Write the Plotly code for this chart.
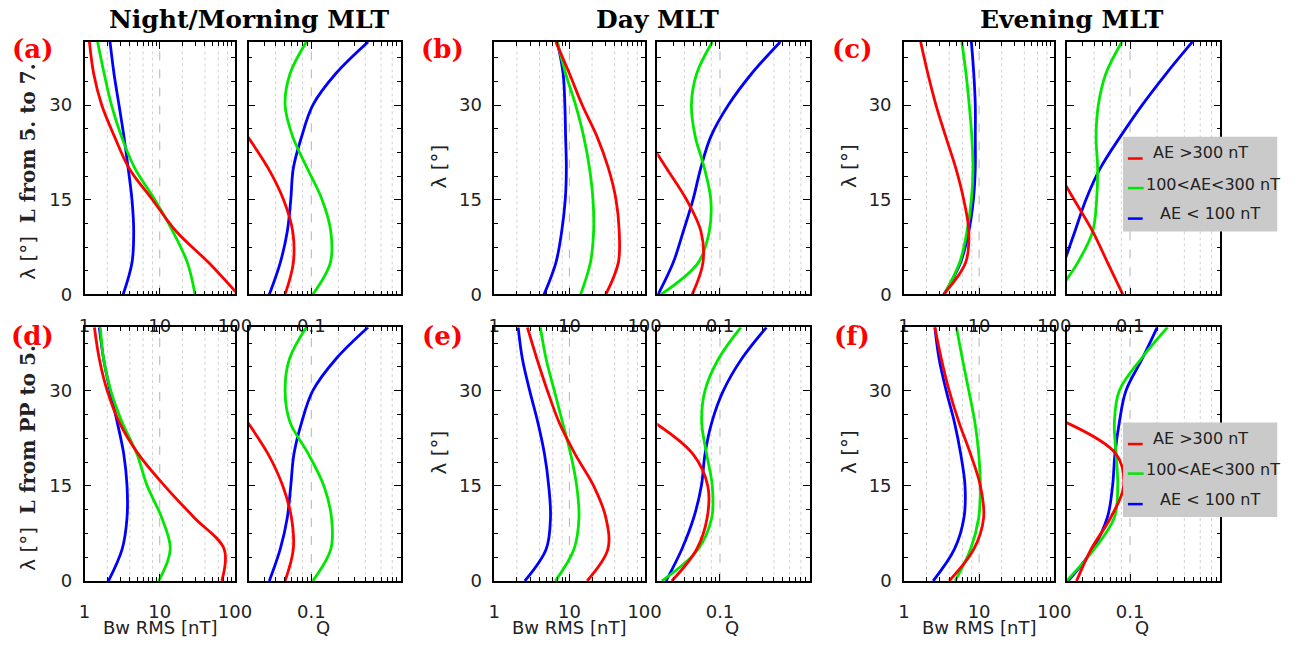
import math
import plotly.graph_objects as go

W, H = 1308, 650

# magnetic latitude grid [deg]
LAT = [0, 5, 10, 15, 20, 25, 30, 35, 40]

SERIES = ["AE >300 nT", "100<AE<300 nT", "AE < 100 nT"]
COLORS = ["#ff0000", "#00e800", "#0000ff"]

# ---- Bw RMS [nT] (red: AE>300, green: 100<AE<300, blue: AE<100) ----
bw_a_red = [110, 45, 16.5, 8.0, 3.9, 2.5, 1.69, 1.32, 1.16]
bw_a_green = [29.5, 23.4, 14.9, 8.6, 4.65, 3.1, 2.28, 1.82, 1.49]
bw_a_blue = [3.26, 4.27, 4.5, 4.27, 3.8, 3.34, 2.87, 2.46, 2.18]

bw_b_red = [30.5, 44.7, 46, 41.7, 33, 23.3, 14.8, 10, 6.6]
bw_b_green = [14.1, 19, 21, 20.6, 18.5, 15.5, 12.1, 8.9, 6.9]
bw_b_blue = [4.6, 6.6, 7.9, 8.8, 9.1, 8.9, 8.7, 8.25, 6.9]

bw_c_red = [3.36, 6.6, 7.3, 6.25, 4.9, 3.6, 2.67, 2.08, 1.67]
bw_c_green = [3.43, 5.5, 6.9, 7.9, 8.3, 8.0, 7.4, 6.7, 5.9]
bw_c_blue = [3.43, 5.65, 7.3, 8.4, 8.9, 8.9, 8.9, 8.5, 7.9]

bw_d_red = [67, 72, 28.6, 11.6, 5.2, 2.9, 2.0, 1.57, 1.35]
bw_d_green = [9.7, 13.8, 10.6, 6.8, 4.97, 3.16, 2.23, 1.79, 1.62]
bw_d_blue = [2.08, 3.16, 3.67, 3.67, 3.32, 2.72, 2.18, 1.79, 1.57]

bw_e_red = [17.2, 32.5, 30.5, 21, 11.9, 7.3, 5.1, 3.7, 2.76]
bw_e_green = [6.5, 11.5, 13.4, 12.5, 10.4, 8.1, 6.3, 4.9, 4.1]
bw_e_blue = [2.55, 4.9, 5.6, 5.3, 4.66, 3.8, 2.96, 2.37, 2.08]

bw_f_red = [4.0, 8.5, 11.5, 10.4, 7.7, 5.4, 4.0, 3.15, 2.58]
bw_f_green = [4.8, 7.7, 9.9, 10.4, 9.9, 8.8, 7.3, 6.0, 5.0]
bw_f_blue = [2.45, 4.7, 6.3, 6.5, 5.7, 4.7, 3.65, 2.94, 2.58]

# ---- Q ----
q_a_red = [0.051, 0.063, 0.062, 0.049, 0.033, 0.0195]
q_a_green = [0.104, 0.163, 0.165, 0.132, 0.09, 0.062, 0.051, 0.058, 0.088]
q_a_blue = [0.034, 0.045, 0.054, 0.059, 0.063, 0.078, 0.104, 0.188, 0.43]

q_b_red = [0.049, 0.0645, 0.0613, 0.0424, 0.0253, 0.015]
q_b_green = [0.022, 0.057, 0.076, 0.079, 0.067, 0.053, 0.048, 0.055, 0.082]
q_b_blue = [0.0204, 0.030, 0.039, 0.050, 0.061, 0.079, 0.124, 0.226, 0.47]

q_c_red = [0.083, 0.0565, 0.0385, 0.024, 0.015]
q_c_green = [0.015, 0.0262, 0.0385, 0.0426, 0.0437, 0.042, 0.0445, 0.054, 0.081]
q_c_blue = [0.014, 0.0185, 0.0245, 0.0324, 0.0468, 0.078, 0.136, 0.252, 0.49]

q_d_red = [0.051, 0.063, 0.06, 0.048, 0.033, 0.0195]
q_d_green = [0.104, 0.165, 0.168, 0.138, 0.093, 0.058, 0.051, 0.057, 0.088]
q_d_blue = [0.034, 0.045, 0.054, 0.059, 0.064, 0.078, 0.104, 0.188, 0.43]

q_e_red = [0.029, 0.055, 0.072, 0.073, 0.050, 0.0185]
q_e_green = [0.0225, 0.057, 0.081, 0.082, 0.071, 0.0625, 0.068, 0.096, 0.171]
q_e_blue = [0.025, 0.0375, 0.051, 0.062, 0.068, 0.081, 0.109, 0.174, 0.33]

q_f_red = [0.0255, 0.037, 0.061, 0.085, 0.07, 0.0195]
q_f_green = [0.0198, 0.040, 0.067, 0.073, 0.07, 0.067, 0.076, 0.132, 0.26]
q_f_blue = [0.0206, 0.0385, 0.056, 0.064, 0.068, 0.076, 0.09, 0.136, 0.2]

COLUMN_TITLES = ["Night/Morning MLT", "Day MLT", "Evening MLT"]
PANEL_LABELS = [["(a)", "(b)", "(c)"], ["(d)", "(e)", "(f)"]]
ROW_YTITLE = ["L from 5. to 7.", "L from PP to 5."]

BW_TICKS = [1, 10, 100]
BW_TICKTEXT = ["1", "10", "100"]
BW_MINOR = [2, 3, 4, 5, 6, 7, 8, 9, 20, 30, 40, 50, 60, 70, 80, 90]
BW_DOTS = [2, 4, 6, 8, 20, 40, 60, 80]
Q_TICKS = [0.1]
Q_TICKTEXT = ["0.1"]
Q_MINOR = [0.03, 0.04, 0.05, 0.06, 0.07, 0.08, 0.09, 0.2, 0.3, 0.4, 0.5, 0.6, 0.7, 0.8, 0.9]
Q_DOTS = [0.04, 0.06, 0.08, 0.2, 0.4, 0.6, 0.8]
LAT_TICKS = [0, 15, 30]
LAT_MINOR = [3.75, 7.5, 11.25, 18.75, 22.5, 26.25, 33.75, 37.5]

data = {
    (0, 0): ([bw_a_red, bw_a_green, bw_a_blue], [q_a_red, q_a_green, q_a_blue]),
    (0, 1): ([bw_b_red, bw_b_green, bw_b_blue], [q_b_red, q_b_green, q_b_blue]),
    (0, 2): ([bw_c_red, bw_c_green, bw_c_blue], [q_c_red, q_c_green, q_c_blue]),
    (1, 0): ([bw_d_red, bw_d_green, bw_d_blue], [q_d_red, q_d_green, q_d_blue]),
    (1, 1): ([bw_e_red, bw_e_green, bw_e_blue], [q_e_red, q_e_green, q_e_blue]),
    (1, 2): ([bw_f_red, bw_f_green, bw_f_blue], [q_f_red, q_f_green, q_f_blue]),
}

# layout geometry in pixels
BW_X = [(80, 233), (497, 650), (914, 1067)]
Q_X = [(247, 402), (663, 818), (1080, 1236)]
ROW_Y = [(42.6, 299), (332.4, 590)]


def fx(px):
    return px / W


def fy(py):
    return 1 - py / H


fig = go.Figure()
layout = {}
shapes = []
annotations = []

TICKFONT = dict(family="DejaVu Sans", size=18, color="#222222")
AX_COMMON = dict(showgrid=False, zeroline=False, showline=True, linecolor="black",
                 linewidth=1.5, mirror="ticks", ticks="inside", ticklen=7,
                 tickwidth=1.2, tickcolor="black", tickfont=TICKFONT)

for r in range(2):
    for c in range(3):
        bw_series, q_series = data[(r, c)]
        for t in range(2):
            k = r * 6 + c * 2 + t + 1
            xn = "x" if k == 1 else f"x{k}"
            yn = "y" if k == 1 else f"y{k}"
            xk = "xaxis" if k == 1 else f"xaxis{k}"
            yk = "yaxis" if k == 1 else f"yaxis{k}"
            x0, x1 = (BW_X if t == 0 else Q_X)[c]
            y0, y1 = ROW_Y[r]
            if t == 0:
                xr = [0, 2]
                tv, tt, mv, dots, dash = BW_TICKS, BW_TICKTEXT, BW_MINOR, BW_DOTS, 10
                series = bw_series
            else:
                xr = [math.log10(0.02), 0]
                tv, tt, mv, dots, dash = Q_TICKS, Q_TICKTEXT, Q_MINOR, Q_DOTS, 0.1
                series = q_series
            layout[xk] = dict(AX_COMMON, domain=[fx(x0), fx(x1)], anchor=yn, type="log",
                              range=xr, tickmode="array", tickvals=tv, ticktext=tt,
                              ticklabelstandoff=14,
                              minor=dict(tickmode="array", tickvals=mv, ticks="inside",
                                         ticklen=4, tickwidth=1, tickcolor="black"))
            layout[yk] = dict(AX_COMMON, domain=[fy(y1), fy(y0)], anchor=xn,
                              range=[0, 40], tickmode="array", tickvals=LAT_TICKS,
                              ticktext=[str(v) for v in LAT_TICKS],
                              showticklabels=(t == 0), ticklabelstandoff=7,
                              minor=dict(tickmode="array", tickvals=LAT_MINOR, ticks="inside",
                                         ticklen=4, tickwidth=1, tickcolor="black"))
            if t == 1:
                # dense right-hand tick scale on the Q panels
                kk = k + 12
                layout[f"yaxis{kk}"] = dict(overlaying=yn, anchor=xn, side="right",
                                            range=[0, 40], tickmode="linear", tick0=0, dtick=1.25,
                                            ticks="outside", ticklen=3, tickwidth=1,
                                            tickcolor="black", showticklabels=False,
                                            showline=False, showgrid=False, zeroline=False)
            # grid lines (shape coordinates are data values on these axes)
            for v in dots:
                shapes.append(dict(type="line", xref=xn, yref=yn, x0=v, x1=v,
                                   y0=0, y1=40, layer="below",
                                   line=dict(color="#d2d2d2", width=1, dash="dot")))
            shapes.append(dict(type="line", xref=xn, yref=yn, x0=dash, x1=dash,
                               y0=0, y1=40, layer="below",
                               line=dict(color="#b4b4b4", width=1, dash="dash")))
            # curves (blue, green, red drawing order)
            for i in [2, 1, 0]:
                vals = series[i]
                fig.add_trace(go.Scatter(
                    x=vals, y=LAT[:len(vals)], mode="lines", name=SERIES[i],
                    line=dict(color=COLORS[i], width=2.8, shape="spline", smoothing=1.0),
                    xaxis=xn, yaxis=yn, showlegend=False, hoverinfo="skip"))

# column titles
for c, (title, xc) in enumerate(zip(COLUMN_TITLES, [247, 663, 1085])):
    annotations.append(dict(text=f"<b>{title}</b>", x=fx(xc), y=fy(20), xref="paper", yref="paper",
                            showarrow=False, xanchor="center", yanchor="middle",
                            font=dict(family="DejaVu Serif", size=25, color="black")))

# panel labels
LABEL_X = [27, 444, 861]
LABEL_Y = [50, 341]
for r in range(2):
    for c in range(3):
        annotations.append(dict(text=f"<b>{PANEL_LABELS[r][c]}</b>", x=fx(LABEL_X[c]), y=fy(LABEL_Y[r]),
                                xref="paper", yref="paper", showarrow=False,
                                xanchor="center", yanchor="middle",
                                font=dict(family="DejaVu Serif", size=26, color="#ff0000")))

# y titles
YT_X = [22, 441, 858]
for r in range(2):
    yc = (ROW_Y[r][0] + ROW_Y[r][1]) / 2
    for c in range(3):
        if c == 0:
            txt = f"λ [°]  <span style='font-family:DejaVu Serif'><b>{ROW_YTITLE[r]}</b></span>"
            yy = yc + 4
        else:
            txt = "λ [°]"
            yy = yc - 2
        annotations.append(dict(text=txt, x=fx(YT_X[c]), y=fy(yy), xref="paper", yref="paper",
                                showarrow=False, textangle=-90, xanchor="center", yanchor="middle",
                                font=dict(family="DejaVu Sans", size=20, color="#222222")))

# x titles (bottom row)
for c in range(3):
    bx = (BW_X[c][0] + BW_X[c][1]) / 2
    qx = (Q_X[c][0] + Q_X[c][1]) / 2
    annotations.append(dict(text="Bw RMS [nT]", x=fx(bx), y=fy(650), xref="paper", yref="paper",
                            showarrow=False, xanchor="center", yanchor="bottom",
                            font=dict(family="DejaVu Sans", size=18, color="#222222")))
    annotations.append(dict(text="Q", x=fx(qx - 2), y=fy(650), xref="paper", yref="paper",
                            showarrow=False, xanchor="center", yanchor="bottom",
                            font=dict(family="DejaVu Sans", size=18, color="#222222")))

# legends (right column, both rows)
LEG_BOX_X = (1137, 1294)
LEG_TOPS = [139, 429]
TEXT_DY = [16, 48, 78]
LINE_DY = [22, 52, 83]
TEXT_X = [1165, 1158, 1173]
for top in LEG_TOPS:
    shapes.append(dict(type="rect", xref="paper", yref="paper", x0=fx(LEG_BOX_X[0]), x1=fx(LEG_BOX_X[1]),
                       y0=fy(top + 96), y1=fy(top), layer="above",
                       fillcolor="#cacaca", line=dict(width=0)))
    for i in range(3):
        shapes.append(dict(type="line", xref="paper", yref="paper", x0=fx(1142), x1=fx(1157 + (1 if i == 1 else 0)),
                           y0=fy(top + LINE_DY[i]), y1=fy(top + LINE_DY[i]), layer="above",
                           line=dict(color=COLORS[i], width=2.5)))
        annotations.append(dict(text=SERIES[i], x=fx(TEXT_X[i]), y=fy(top + TEXT_DY[i]),
                                xref="paper", yref="paper", showarrow=False,
                                xanchor="left", yanchor="middle",
                                font=dict(family="DejaVu Sans", size=16, color="#222222")))

layout.update(dict(width=W, height=H, margin=dict(l=0, r=0, t=0, b=0),
                   paper_bgcolor="white", plot_bgcolor="white",
                   shapes=shapes, annotations=annotations, showlegend=False))
fig.update_layout(**layout)

fig.write_html("out.html", config={"displayModeBar": False},
               post_script="document.body.style.margin='0px';")
